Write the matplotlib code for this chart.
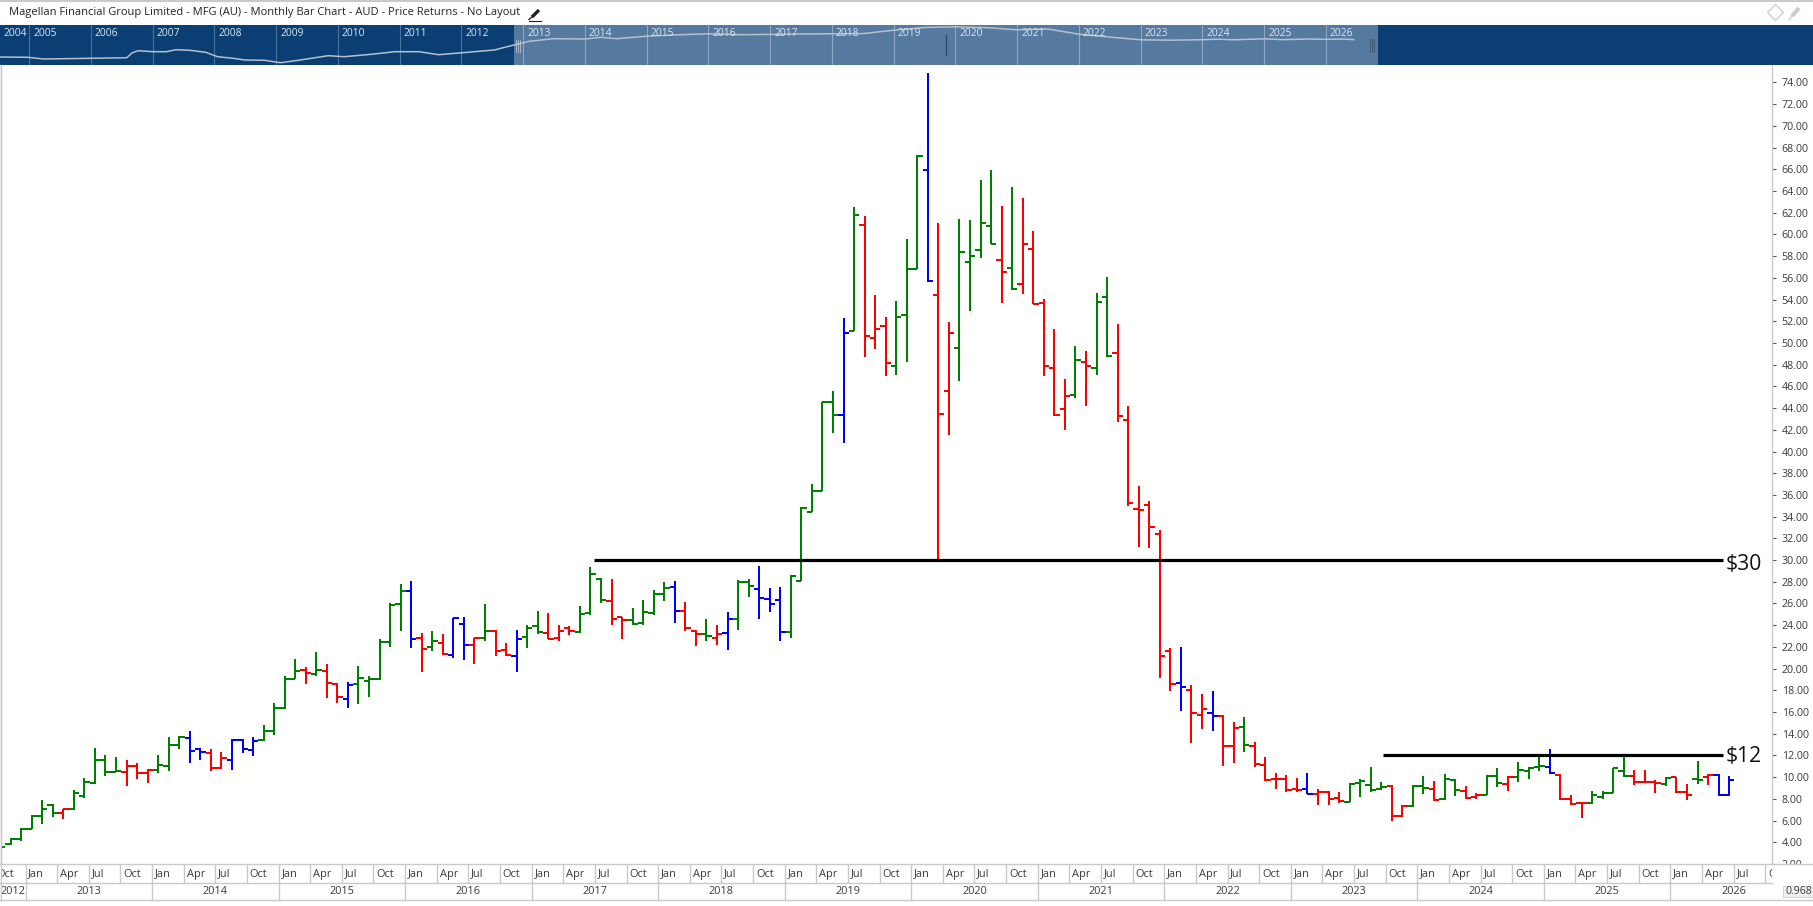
#!/usr/bin/env python3
"""
Monthly OHLC bar chart for Magellan Financial Group (MFG.AU) with the $30 and
$12 levels, a year navigator across the top and month/year strips underneath.
Writes out.png.
"""
import matplotlib

matplotlib.use("Agg")
import matplotlib.pyplot as plt
from matplotlib.collections import LineCollection
from matplotlib.lines import Line2D
from matplotlib.patches import Rectangle

WIDTH, HEIGHT = 1813, 906

TITLE = "Magellan Financial Group Limited - MFG (AU) - Monthly Bar Chart - AUD - Price Returns - No Layout"

# monthly bars, first one is Oct 2012
OPEN = [
    3.50, 3.80, 4.29, 5.24, 6.46, 7.41, 6.71, 7.07, 8.30, 9.46,
    11.60, 10.47, 10.47, 11.05, 10.41, 10.68, 11.02, 12.98, 13.62, 12.61,
    12.22, 10.84, 11.60, 13.44, 12.46, 13.38, 14.27, 16.35, 19.01, 19.86,
    19.47, 19.77, 18.61, 17.20, 18.58, 18.86, 19.04, 22.41, 25.93, 27.18,
    22.80, 21.97, 22.40, 21.30, 24.15, 22.13, 22.86, 23.50, 21.67, 21.12,
    22.95, 23.96, 23.32, 22.86, 23.78, 23.38, 25.16, 28.28, 26.26, 24.73,
    24.52, 24.21, 25.16, 26.90, 27.55, 25.34, 23.50, 23.23, 22.86, 23.32,
    24.61, 27.94, 27.36, 26.44, 26.35, 23.41, 28.10, 34.46, 36.36, 44.56,
    43.34, 51.14, 60.88, 50.50, 51.60, 47.84, 52.61, 56.84, 65.96, 54.45,
    45.54, 49.58, 57.42, 58.61, 60.82, 57.66, 56.93, 55.46, 58.67, 53.72,
    47.66, 43.90, 45.18, 48.21, 47.66, 54.27, 49.04, 42.91, 34.71, 35.07,
    32.41, 21.58, 18.64, 18.00, 15.70, 15.89, 15.61, 12.89, 14.63, 12.86,
    11.11, 9.83, 9.83, 8.91, 8.91, 8.45, 8.66, 8.08, 7.71, 9.46,
    9.31, 8.88, 9.21, 6.43, 7.35, 9.21, 8.91, 7.99, 9.76, 8.72,
    8.17, 8.36, 10.13, 9.37, 10.01, 10.59, 10.93, 10.93, 10.23, 7.99,
    7.59, 7.62, 8.14, 8.54, 10.59, 10.13, 9.58, 9.58, 9.40, 9.98,
    8.63, 9.83, 9.98, 10.23, 8.36,
]
HIGH = [
    3.65, 4.35, 5.30, 6.49, 7.87, 7.50, 7.10, 8.84, 9.89, 12.73,
    12.00, 11.82, 11.54, 11.27, 10.74, 12.00, 13.74, 13.80, 14.29, 12.67,
    12.55, 12.28, 13.47, 13.47, 13.74, 14.82, 16.87, 19.35, 20.91, 20.17,
    21.55, 20.44, 18.67, 18.80, 20.26, 19.35, 22.75, 26.02, 27.80, 28.07,
    23.32, 23.50, 23.23, 24.70, 24.79, 22.83, 25.98, 23.54, 22.40, 23.60,
    24.06, 25.34, 25.16, 24.06, 23.93, 25.80, 29.38, 28.34, 28.28, 24.76,
    25.62, 26.35, 27.27, 28.00, 28.10, 26.17, 23.57, 24.61, 24.06, 25.25,
    28.16, 28.28, 29.47, 27.45, 27.55, 28.62, 34.86, 36.97, 44.59, 45.60,
    52.31, 62.53, 61.70, 54.45, 52.43, 53.90, 59.59, 67.31, 74.84, 61.06,
    51.97, 61.43, 61.34, 65.01, 65.93, 62.62, 64.37, 63.36, 60.33, 54.08,
    51.33, 46.65, 49.68, 49.22, 54.64, 56.11, 51.79, 44.16, 36.82, 35.44,
    32.78, 21.86, 21.95, 18.46, 17.63, 17.91, 15.76, 15.06, 15.52, 13.22,
    11.85, 10.38, 10.19, 9.92, 10.38, 8.88, 8.69, 8.63, 9.43, 9.86,
    10.93, 9.55, 9.24, 7.44, 9.24, 10.10, 9.64, 10.28, 9.83, 9.15,
    8.54, 10.20, 10.84, 10.10, 11.39, 10.90, 11.82, 12.58, 10.26, 8.33,
    7.66, 8.73, 8.73, 10.87, 11.82, 10.65, 10.65, 9.71, 9.98, 10.01,
    9.37, 11.48, 10.26, 10.29, 10.07,
]
LOW = [
    3.45, 3.74, 4.10, 5.24, 5.73, 6.31, 6.10, 7.00, 8.05, 9.40,
    10.13, 10.44, 9.21, 9.80, 9.49, 10.35, 10.53, 12.55, 11.33, 11.54,
    10.53, 10.78, 10.68, 12.19, 11.97, 13.35, 13.90, 16.32, 19.01, 18.58,
    19.35, 17.30, 16.87, 16.38, 16.78, 17.38, 18.98, 22.01, 23.45, 21.92,
    19.65, 21.61, 21.24, 20.96, 20.78, 20.41, 22.53, 21.15, 21.15, 19.65,
    21.94, 23.23, 22.71, 22.59, 23.08, 23.29, 24.97, 26.08, 24.06, 22.77,
    24.06, 24.06, 24.97, 26.26, 24.24, 23.50, 22.04, 22.59, 22.22, 21.67,
    23.60, 26.63, 24.61, 25.25, 22.50, 22.86, 28.10, 34.40, 36.33, 41.72,
    40.80, 51.08, 48.69, 49.40, 46.92, 47.01, 48.21, 56.77, 55.61, 30.10,
    41.50, 46.49, 52.98, 57.85, 59.13, 53.72, 54.91, 54.54, 53.56, 46.92,
    43.28, 41.97, 44.91, 44.17, 47.02, 48.67, 42.70, 35.01, 31.22, 31.12,
    19.10, 17.91, 16.07, 13.13, 14.42, 14.23, 11.02, 11.30, 12.30, 10.93,
    9.61, 8.91, 8.63, 8.63, 8.42, 7.44, 7.44, 7.62, 7.68, 8.17,
    8.63, 8.82, 5.97, 6.37, 7.29, 8.45, 7.80, 7.93, 8.29, 7.96,
    7.96, 8.33, 9.09, 8.70, 9.52, 9.86, 10.59, 10.29, 7.93, 7.47,
    6.28, 7.53, 7.96, 8.51, 10.04, 9.31, 9.58, 8.57, 9.15, 8.57,
    7.93, 9.40, 9.31, 8.30, 8.30,
]
CLOSE = [
    3.58, 4.29, 5.24, 6.40, 7.10, 6.71, 7.07, 8.57, 9.55, 11.54,
    10.47, 10.59, 11.05, 10.41, 10.68, 11.14, 12.98, 13.68, 12.43, 12.31,
    10.84, 11.79, 13.38, 12.61, 13.35, 14.27, 16.41, 19.04, 19.77, 19.59,
    19.86, 18.64, 17.38, 18.49, 19.13, 19.04, 22.41, 25.87, 27.18, 22.75,
    21.85, 22.59, 21.39, 24.64, 22.13, 22.80, 23.50, 21.58, 21.21, 22.77,
    23.75, 23.41, 22.77, 23.50, 23.50, 25.07, 28.74, 26.35, 24.61, 24.52,
    24.15, 25.25, 26.90, 27.45, 25.34, 23.78, 23.23, 23.05, 23.23, 24.61,
    27.94, 27.64, 26.54, 25.98, 23.41, 28.49, 34.83, 36.36, 44.56, 43.34,
    50.96, 61.83, 50.68, 51.33, 48.11, 52.43, 56.84, 67.24, 55.67, 43.43,
    50.96, 58.34, 57.97, 61.09, 59.16, 56.56, 55.00, 59.16, 53.62, 47.84,
    43.34, 45.09, 48.43, 47.84, 53.81, 48.76, 43.28, 35.26, 34.61, 33.05,
    21.12, 18.55, 18.28, 15.89, 16.28, 15.61, 12.89, 14.54, 12.95, 11.20,
    9.70, 9.83, 8.82, 8.82, 8.45, 8.66, 7.99, 7.80, 9.40, 9.64,
    8.82, 9.09, 6.43, 7.38, 9.21, 9.03, 7.90, 9.86, 8.82, 8.08,
    8.39, 10.13, 9.46, 10.01, 10.69, 10.84, 11.02, 10.38, 7.99, 7.53,
    7.62, 8.33, 8.51, 10.81, 10.13, 9.58, 9.58, 9.43, 9.95, 8.63,
    8.36, 9.74, 10.16, 8.36, 9.77,
]
# g = up state, r = down state, b = neutral, ten bars per group
TREND = list(
    "ggggggrggg" "ggrrrgggbb" "rrbbbggggr" "grrbgggggb"
    "rgrbbrgrrb" "ggrrrgggrr" "ggggbrrgrb" "ggbbbggggg"
    "bgrrrgggbr" "rggggrgrrr" "rrgrggrrrr" "rrbrrbrrgr"
    "rrrrbrrrgg" "ggrrggrggr" "rggrgggbrr" "rggggrrrgr"
    "rgrbb"
)

LEVELS = [30, 12]
LEVEL_STARTS = [56.3, 131.2]
LEVEL_END = 163.4
LEVEL_LABEL_Y = [29.62, 11.9]

PRICE_TICKS = list(range(2, 76, 2))
MONTH_CYCLE = ["Oct", "Jan", "Apr", "Jul"]
MONTH_TICK_COUNT = 57
YEARS = list(range(2012, 2027))

# navigator: whole price history, in band height above the lower edge
NAV_YEARS = [
    2004.53, 2004.98, 2005.23, 2005.55, 2006.0, 2006.58, 2006.67, 2006.77, 2007.0, 2007.22,
    2007.38, 2007.6, 2007.86, 2008.05, 2008.3, 2008.5, 2008.81, 2009.07, 2009.39, 2009.84,
    2010.1, 2010.54, 2010.92, 2011.31, 2011.63, 2012.02, 2012.53, 2012.85, 2013.1, 2013.48,
    2014.0, 2014.26, 2014.51, 2015.0, 2015.5, 2016.0, 2016.5, 2017.0, 2017.5, 2018.0,
    2018.5, 2019.0, 2019.5, 2020.0, 2020.5, 2021.0, 2021.5, 2022.0, 2022.5, 2023.0,
    2023.5, 2024.0, 2024.25, 2024.5, 2025.0, 2025.3, 2025.7, 2026.0, 2026.25, 2026.45,
]
NAV_LEVEL = [
    8.0, 7.7, 6.0, 6.3, 6.7, 7.3, 12.3, 14.3, 13.3, 13.3,
    15.3, 14.7, 12.7, 8.3, 6.7, 5.0, 4.7, 2.3, 5.0, 9.3,
    8.3, 10.7, 13.3, 13.3, 10.3, 12.3, 15.0, 20.0, 23.7, 26.3,
    26.0, 27.7, 26.3, 28.8, 30.2, 31.2, 30.3, 30.6, 31.0, 31.2,
    31.4, 34.8, 37.5, 38.2, 37.4, 35.2, 36.0, 30.8, 27.9, 25.2,
    24.8, 25.3, 25.8, 25.2, 26.2, 25.3, 26.0, 25.7, 25.9, 25.4,
]
NAV_LABEL_YEARS = list(range(2005, 2027))

GREEN, RED, BLUE = "#008000", "#ff0000", "#0000ff"
TREND_COLOURS = {"g": GREEN, "r": RED, "b": BLUE}
GRID = "#c9c9c9"
TEXT = "#3a3a3a"
NAVY = "#0b3f73"
WINDOW = "#55799f"

plt.rcParams["font.family"] = ["Open Sans", "DejaVu Sans"]


def px_axes(fig, x0, y0, x1, y1, **kw):
    return fig.add_axes([x0 / WIDTH, 1 - y1 / HEIGHT, (x1 - x0) / WIDTH, (y1 - y0) / HEIGHT], **kw)


def px_line(fig, xs, ys, **kw):
    fig.add_artist(Line2D([x / WIDTH for x in xs], [1 - y / HEIGHT for y in ys],
                          transform=fig.transFigure, **kw))


def draw_navigator(fig):
    ax = px_axes(fig, 0, 25, WIDTH, 65, facecolor=NAVY, zorder=2)
    ax.set_axis_off()
    ax.add_patch(Rectangle((0, 0), 1, 1, transform=ax.transAxes, color=NAVY, zorder=0))
    ax.set_xlim(2004.527, 2033.887)
    ax.set_ylim(0, 40)
    ax.axvspan(2012.85, 2026.84, color=WINDOW, lw=0, zorder=1)
    for yr in NAV_LABEL_YEARS:
        sep = "#8ea6c0" if yr >= 2013 else "#48739e"
        ax.plot([yr, yr], [0, 40], color=sep, lw=0.8, zorder=2)
        ax.text(yr + 0.065, 32, str(yr), color="#dbe6f0", fontsize=7.4, va="center", ha="left", zorder=4)
    ax.text(2004.576, 32, "2004", color="#dbe6f0", fontsize=7.4, va="center", ha="left", zorder=4)
    ax.plot(NAV_YEARS, NAV_LEVEL, color="#b4c0cf", lw=1.1, zorder=3)
    for dx in (0, 0.03, 0.06):
        ax.plot([2012.88 + dx] * 2, [13, 25], color="#b9c4d0", lw=0.6, zorder=4)
        ax.plot([2026.72 + dx] * 2, [13, 26], color="#38536f", lw=0.6, zorder=4)
    ax.plot([2019.85, 2019.85], [10, 30], color="#33485f", lw=0.9, zorder=4)


def draw_bars(ax):
    stems, opens, closes, colours = [], [], [], []
    for i, (o, h, l, c, t) in enumerate(zip(OPEN, HIGH, LOW, CLOSE, TREND)):
        stems.append([(i, l), (i, h)])
        opens.append([(i - 0.5, o), (i, o)])
        closes.append([(i, c), (i + 0.5, c)])
        colours.append(TREND_COLOURS[t])
    for segs in (stems, opens, closes):
        ax.add_collection(LineCollection(segs, colors=colours, linewidths=1.44,
                                         capstyle="butt", zorder=3))


def main():
    fig = plt.figure(figsize=(WIDTH / 100, HEIGHT / 100), dpi=100, facecolor="white")

    ax = px_axes(fig, 1, 65, 1772, 864, facecolor="white", zorder=1)
    ax.set_xlim(0.095, 168.06)
    ax.set_ylim(2.24, 75.61)
    draw_bars(ax)

    for level, start, label_y in zip(LEVELS, LEVEL_STARTS, LEVEL_LABEL_Y):
        ax.plot([start, LEVEL_END], [level, level], color="black", lw=2.3,
                solid_capstyle="butt", zorder=4)
        ax.text(LEVEL_END + 0.25, label_y, f"${level}", color="#111111", fontsize=15.2,
                va="center", ha="left", zorder=5)

    ax.yaxis.tick_right()
    ax.set_yticks(PRICE_TICKS)
    ax.set_yticklabels([f"{v:.2f}" for v in PRICE_TICKS], color=TEXT, fontsize=7.7)
    ax.tick_params(axis="y", length=3, width=0.8, color="#555555", pad=4)
    ax.set_xticks([])
    for side in ("top", "bottom"):
        ax.spines[side].set_visible(False)
    for side in ("left", "right"):
        ax.spines[side].set_color(GRID)
        ax.spines[side].set_linewidth(1.0)

    # keeps the lowest price label from running into the month strip
    fig.add_artist(Rectangle((1772 / WIDTH, 0), 41 / WIDTH, 1 - 864 / HEIGHT, color="white",
                             transform=fig.transFigure, zorder=1.5))

    month_ax = px_axes(fig, 1, 864, 1772, 883, zorder=2)
    year_ax = px_axes(fig, 1, 883, 1772, 900, zorder=2)
    for strip in (month_ax, year_ax):
        strip.set_xlim(ax.get_xlim())
        strip.set_ylim(0, 1)
        strip.set_axis_off()

    tick_x = [3 * k - 0.58 for k in range(MONTH_TICK_COUNT)]
    for k, x in enumerate(tick_x):
        month_ax.plot([x, x], [0, 1], color=GRID, lw=1.0)
        month_ax.text(x + 0.27, 0.47, MONTH_CYCLE[k % 4], color=TEXT, fontsize=7.9,
                      va="center", ha="left", clip_on=True)
    for k, yr in enumerate(YEARS):
        start = tick_x[1] + 12 * (k - 1)
        if yr == YEARS[0]:
            centre = (ax.get_xlim()[0] + tick_x[1]) / 2
        else:
            centre = start + 6
            year_ax.plot([start, start], [0, 1], color=GRID, lw=1.0)
        year_ax.text(centre, 0.5, str(yr), color=TEXT, fontsize=7.8, va="center", ha="center", clip_on=True)

    px_line(fig, [0, WIDTH], [864, 864], color=GRID, lw=1.0, zorder=3)
    px_line(fig, [0, 1772], [883, 883], color=GRID, lw=1.0, zorder=3)
    px_line(fig, [0, WIDTH], [900, 900], color=GRID, lw=1.0, zorder=3)
    px_line(fig, [1, 1], [65, 900], color=GRID, lw=1.0, zorder=3)
    px_line(fig, [0, WIDTH], [0.5, 0.5], color=GRID, lw=1.5, zorder=3)

    fig.add_artist(Rectangle((1783 / WIDTH, 1 - 897 / HEIGHT), 30 / WIDTH, 11 / HEIGHT, facecolor="#f1f1f1",
                             edgecolor="#d5d5d5", lw=0.8, transform=fig.transFigure, zorder=3))
    fig.text(1785 / WIDTH, 1 - 891.5 / HEIGHT, "0.968", color=TEXT, fontsize=7.6, va="center", ha="left", zorder=4)

    draw_navigator(fig)

    fig.text(9 / WIDTH, 1 - 13 / HEIGHT, TITLE, color="#222222", fontsize=8.0, va="center", ha="left")

    # edit pencil next to the title
    px_line(fig, [532, 539], [17, 10], color="#222222", lw=2.4, solid_capstyle="butt")
    px_line(fig, [529, 532], [19.5, 17], color="#222222", lw=1.0)
    px_line(fig, [529, 541], [21, 21], color="#222222", lw=0.8)
    # diamond and pin controls at the top right
    fig.add_artist(Line2D([1775 / WIDTH], [1 - 12 / HEIGHT], marker="D", ms=8, mfc="white", mec="#cfcfcf",
                          mew=1.0, transform=fig.transFigure))
    px_line(fig, [1792, 1799], [16, 8], color="#cdcdcd", lw=3.0, solid_capstyle="butt")
    px_line(fig, [1789, 1792], [20, 16], color="#cdcdcd", lw=1.0)

    fig.savefig("out.png", dpi=100, facecolor="white")
    plt.close(fig)


if __name__ == "__main__":
    main()
